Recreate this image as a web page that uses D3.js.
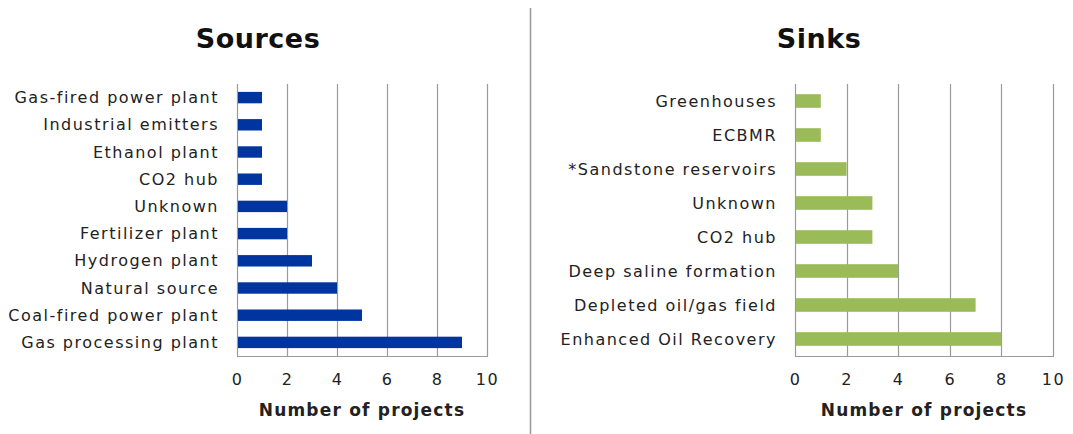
<!DOCTYPE html>
<html lang="en">
<head>
  <meta charset="UTF-8">
  <script src="https://d3js.org/d3.v7.min.js"></script>
  <style>
    body { margin: 0; background: #fff; }
    text { font-family: "DejaVu Sans", Verdana, sans-serif; fill: #222; }
  </style>
</head>
<body>
  <svg width="1073" height="434"></svg>

  <script>
    // data
    var sourceNames = ["Gas-fired power plant", "Industrial emitters", "Ethanol plant", "CO2 hub",
      "Unknown", "Fertilizer plant", "Hydrogen plant", "Natural source",
      "Coal-fired power plant", "Gas processing plant"];
    var sourceCounts = [1, 1, 1, 1, 2, 2, 3, 4, 5, 9];

    var sinkNames = ["Greenhouses", "ECBMR", "*Sandstone reservoirs", "Unknown", "CO2 hub",
      "Deep saline formation", "Depleted oil/gas field", "Enhanced Oil Recovery"];
    var sinkCounts = [1, 1, 2, 3, 3, 4, 7, 8];

    var xTicks = [0, 2, 4, 6, 8, 10];

    var svg = d3.select("svg");

    // divider between the two panels
    svg.append("line")
      .attr("x1", 530.5).attr("x2", 530.5)
      .attr("y1", 8).attr("y2", 434)
      .attr("stroke", "#999").attr("stroke-width", 1.5);

    function panel(opt) {
      var x = d3.scaleLinear().domain([0, 10]).range([opt.left, opt.right]);
      var y = d3.scaleBand().domain(opt.names).range([opt.top, opt.bottom]).paddingInner(opt.pad).paddingOuter(opt.pad / 2);
      var g = svg.append("g");

      // title
      g.append("text")
        .attr("x", opt.titleX).attr("y", 48)
        .attr("text-anchor", "middle")
        .style("font-size", "27px").style("font-weight", "bold")
        .style("letter-spacing", "0.5px")
        .style("fill", "#111")
        .text(opt.title);

      // gridlines
      g.selectAll(".grid").data(xTicks).enter().append("line")
        .attr("x1", function(d){ return Math.round(x(d)) + 0.5 })
        .attr("x2", function(d){ return Math.round(x(d)) + 0.5 })
        .attr("y1", opt.top).attr("y2", opt.bottom)
        .attr("stroke", "#9a9a9a").attr("stroke-width", 1.2);

      // bottom border
      g.append("line")
        .attr("x1", x(0)).attr("x2", x(10) + 1)
        .attr("y1", opt.bottom + 0.5).attr("y2", opt.bottom + 0.5)
        .attr("stroke", "#9a9a9a").attr("stroke-width", 1.2);

      // bars
      g.selectAll(".bar").data(opt.counts).enter().append("rect")
        .attr("x", x(0) + 1)
        .attr("y", function(d, i){ return y(opt.names[i]) })
        .attr("width", function(d){ return x(d) - x(0) - 1 })
        .attr("height", y.bandwidth())
        .attr("fill", opt.color);

      // category labels
      g.selectAll(".cat").data(opt.names).enter().append("text")
        .attr("x", x(0) - 18)
        .attr("y", function(d){ return y(d) + y.bandwidth() / 2 })
        .attr("dy", "0.35em")
        .attr("text-anchor", "end")
        .style("font-size", "16px")
        .style("letter-spacing", "1.5px")
        .text(function(d){ return d });

      // x axis tick labels
      var axis = g.append("g")
        .attr("transform", "translate(0," + (opt.bottom + 14) + ")")
        .call(d3.axisBottom(x).tickValues(xTicks).tickSize(0).tickPadding(4));
      axis.select(".domain").remove();
      axis.selectAll("text")
        .style("font-size", "16px")
        .style("letter-spacing", "1.5px")
        .style("font-family", "DejaVu Sans, Verdana, sans-serif")
        .attr("fill", "#222");

      // axis title
      g.append("text")
        .attr("x", (x(0) + x(10)) / 2).attr("y", 416)
        .attr("text-anchor", "middle")
        .style("font-size", "17px").style("font-weight", "bold")
        .style("letter-spacing", "1.2px")
        .text("Number of projects");
    }

    panel({
      title: "Sources", titleX: 258,
      names: sourceNames, counts: sourceCounts,
      left: 237, right: 487, top: 84, bottom: 356,
      pad: 0.58, color: "#0035a0"
    });

    panel({
      title: "Sinks", titleX: 819,
      names: sinkNames, counts: sinkCounts,
      left: 795, right: 1053, top: 84, bottom: 356,
      pad: 0.6, color: "#9bbb59"
    });
  </script>
</body>
</html>
